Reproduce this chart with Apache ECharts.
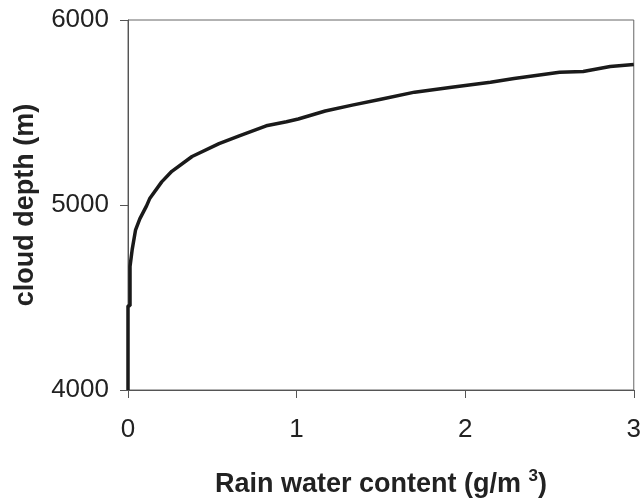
<!DOCTYPE html>
<html>
<head>
<meta charset="utf-8">
<script src="https://cdn.jsdelivr.net/npm/echarts@6/dist/echarts.min.js"></script>
<style>
  html, body { margin: 0; padding: 0; background: #fff; }
  #chart { width: 644px; height: 503px; }
</style>
</head>
<body>
<div id="chart"></div>
<script>
// Rain water content (g/m3) against cloud depth (m)
const rainWater = [0, 0, 0.012, 0.012, 0.025, 0.045, 0.07, 0.11, 0.13, 0.2, 0.26, 0.38, 0.54, 0.66, 0.82, 0.94, 1.01, 1.11, 1.17, 1.33, 1.5, 1.7, 1.92, 2.15, 2.29, 2.56, 2.7, 2.86, 3.0];
const cloudDepth = [4000, 4455, 4455, 4668, 4760, 4866, 4925, 4995, 5037, 5125, 5182, 5262, 5332, 5374, 5428, 5450, 5465, 5492, 5508, 5540, 5572, 5610, 5636, 5663, 5684, 5717, 5722, 5749, 5760];
const xTicks = [0, 1, 2, 3];
const yTicks = [4000, 5000, 6000];

const points = rainWater.map((x, i) => [x, cloudDepth[i]]);
const font = 'Liberation Sans, Arial, sans-serif';

const chart = echarts.init(document.getElementById('chart'), null, { renderer: 'canvas' });
chart.setOption({
  animation: false,
  backgroundColor: '#fff',
  grid: {
    left: 128, right: 8, top: 20, bottom: 108,
    show: true, borderColor: '#666', borderWidth: 1
  },
  xAxis: {
    type: 'value',
    min: xTicks[0], max: xTicks[xTicks.length - 1], interval: 1,
    name: '{t|Rain water content (g/m }{s|3}{t|)}',
    nameLocation: 'middle', nameGap: 78,
    nameTextStyle: {
      rich: {
        t: { fontFamily: font, fontSize: 27, fontWeight: 'bold', color: '#222' },
        s: { fontFamily: font, fontSize: 17, fontWeight: 'bold', color: '#222', verticalAlign: 'top', padding: [0, 0, 16, 0] }
      }
    },
    axisLine: { lineStyle: { color: '#555', width: 1 } },
    axisTick: { show: true, inside: false, length: 8, lineStyle: { color: '#555' } },
    axisLabel: { fontFamily: font, fontSize: 26, color: '#222', margin: 27 },
    splitLine: { show: false }
  },
  yAxis: {
    type: 'value',
    min: yTicks[0], max: yTicks[yTicks.length - 1], interval: 1000,
    name: 'cloud depth (m)',
    nameLocation: 'middle', nameGap: 89, nameRotate: 90,
    nameTextStyle: { fontFamily: font, fontSize: 27, fontWeight: 'bold', color: '#222' },
    axisLine: { lineStyle: { color: '#555', width: 1 } },
    axisTick: { show: true, inside: false, length: 8, lineStyle: { color: '#555' } },
    axisLabel: { fontFamily: font, fontSize: 26, color: '#222', margin: 19, formatter: v => String(v) },
    splitLine: { show: false }
  },
  series: [{
    type: 'line',
    data: points,
    showSymbol: false,
    smooth: false,
    lineStyle: { color: '#1a1a1a', width: 3.5 }
  }]
});
</script>
</body>
</html>
